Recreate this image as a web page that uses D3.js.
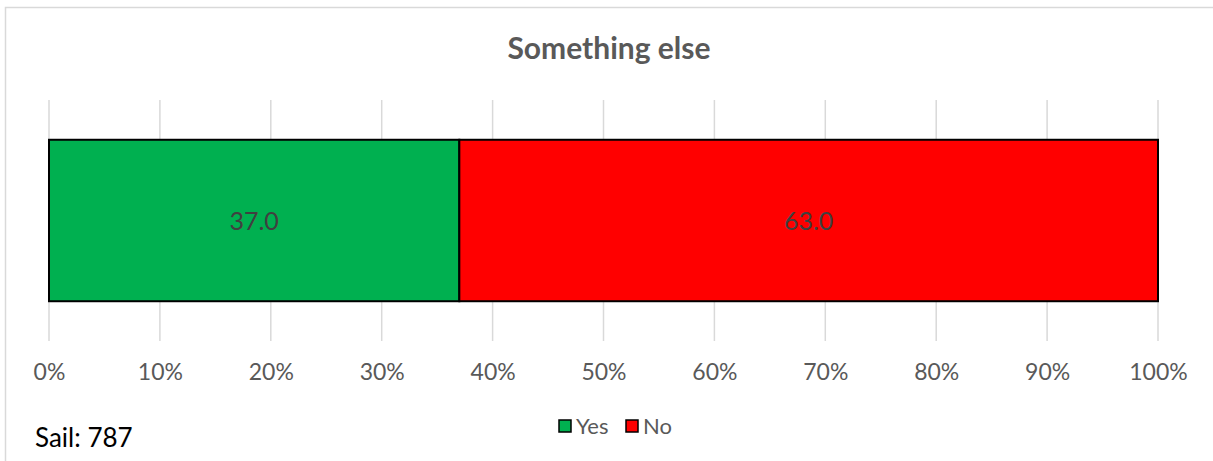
<!DOCTYPE html>
<html><head><meta charset="utf-8">
<script src="https://cdn.jsdelivr.net/npm/d3@7"></script>
<style>body{margin:0;background:#fff}svg{display:block}text{font-family:Lato,"Open Sans",sans-serif}</style>
</head><body><svg id="c" width="1213" height="461"></svg>
<script>
const title = "Something else";
const categories = ["Something else"];
const seriesNames = ["Yes", "No"];
const seriesColors = ["#00b050", "#ff0000"];
const yesValues = [37.0];
const noValues = [63.0];
const tickValues = [0,10,20,30,40,50,60,70,80,90,100];
const footnote = "Sail: 787";

const svg = d3.select("#c");
// chart border
svg.append("rect").attr("x",5.5).attr("y",7.5).attr("width",1230).attr("height",470)
  .attr("fill","none").attr("stroke","#d9d9d9").attr("stroke-width",1.5);

svg.append("text").attr("x",609).attr("y",59).attr("text-anchor","middle")
  .attr("font-size",30).attr("font-weight","bold").attr("fill","#595959").text(title);

const x = d3.scaleLinear().domain([0,100]).range([49,1158]);
const y = d3.scaleBand().domain(categories).range([100,341]).paddingInner(0.33).paddingOuter(0.165);

// gridlines
svg.append("g").selectAll("line").data(tickValues).join("line")
  .attr("x1",d=>x(d)).attr("x2",d=>x(d)).attr("y1",100).attr("y2",341)
  .attr("stroke","#d9d9d9").attr("stroke-width",1.5);

// axis labels
const ax = svg.append("g").attr("transform","translate(0,341)")
  .call(d3.axisBottom(x).tickValues(tickValues).tickFormat(d=>d+"%").tickSize(0).tickPadding(23));
ax.select(".domain").remove();
ax.selectAll("text").attr("font-size",23).attr("fill","#595959").style("font-family","Lato,'Open Sans',sans-serif");

// stacked bars
const stack = d3.stack().keys([0,1])(categories.map((c,i)=>[yesValues[i],noValues[i]]));
stack.forEach((s,si)=>{
  svg.append("g").selectAll("rect").data(s).join("rect")
    .attr("x",d=>x(d[0])).attr("width",d=>x(d[1])-x(d[0]))
    .attr("y",(d,i)=>y(categories[i])).attr("height",y.bandwidth())
    .attr("fill",seriesColors[si]).attr("stroke","#000").attr("stroke-width",2);
  svg.append("g").selectAll("text").data(s).join("text")
    .attr("x",d=>(x(d[0])+x(d[1]))/2).attr("y",(d,i)=>y(categories[i])+y.bandwidth()/2+9)
    .attr("text-anchor","middle").attr("font-size",25).attr("fill","#404040")
    .text(d=>(d[1]-d[0]).toFixed(1));
});

// legend
const lg = svg.append("g");
const lx = [559, 626];
seriesNames.forEach((n,i)=>{
  lg.append("rect").attr("x",lx[i]).attr("y",420).attr("width",12).attr("height",12)
    .attr("fill",seriesColors[i]).attr("stroke","#000").attr("stroke-width",1.5);
  lg.append("text").attr("x",lx[i]+17).attr("y",434).attr("font-size",22).attr("fill","#595959").text(n);
});

svg.append("text").attr("x",35).attr("y",447).attr("font-size",26).attr("fill","#000").text(footnote);
</script></body></html>
